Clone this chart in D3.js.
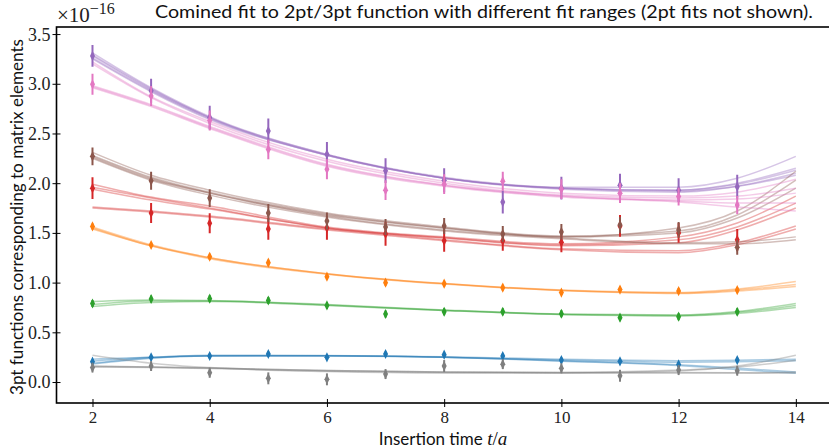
<!DOCTYPE html>
<html><head><meta charset="utf-8">
<script src="https://cdn.jsdelivr.net/npm/d3@7"></script>
<style>
html,body{margin:0;padding:0;background:#fff;}
svg{display:block;}
</style></head>
<body>
<svg id="chart" width="829" height="448"></svg>
<script>
// ---------- data ----------
const tPoints = [2,3,4,5,6,7,8,9,10,11,12,13];
const fitT = [2,3,4,6,8,10,12,13,14];
const xTicks = [2,4,6,8,10,12,14];
const yTicks = [0,0.5,1.0,1.5,2.0,2.5,3.0,3.5];

const seriesNames = ["blue","orange","green","red","purple","brown","pink","gray"];
const seriesColors = ["#1f77b4","#ff7f0e","#2ca02c","#d62728","#9467bd","#8c564b","#e377c2","#7f7f7f"];

const blueVals   = [0.205,0.248,0.262,0.282,0.248,0.282,0.275,0.262,0.221,0.208,0.177,0.221];
const blueErr    = [0.025,0.025,0.025,0.025,0.025,0.025,0.025,0.025,0.025,0.025,0.025,0.025];
const orangeVals = [1.565,1.378,1.26,1.20,1.06,0.999,0.989,0.949,0.90,0.93,0.915,0.925];
const orangeErr  = [0.03,0.025,0.03,0.03,0.03,0.03,0.03,0.03,0.025,0.03,0.03,0.03];
const greenVals  = [0.79,0.835,0.838,0.82,0.77,0.684,0.707,0.707,0.687,0.647,0.657,0.707];
const greenErr   = [0.035,0.035,0.035,0.035,0.035,0.035,0.035,0.035,0.035,0.035,0.035,0.035];
const redVals    = [1.95,1.70,1.597,1.54,1.55,1.49,1.42,1.42,1.405,1.57,1.50,1.43];
const redErr     = [0.11,0.10,0.10,0.11,0.12,0.12,0.11,0.10,0.10,0.11,0.10,0.11];
const purpleVals = [3.28,2.93,2.66,2.525,2.29,2.126,2.03,1.81,1.95,1.98,1.93,1.965];
const purpleErr  = [0.11,0.12,0.12,0.125,0.125,0.125,0.12,0.115,0.115,0.115,0.12,0.12];
const brownVals  = [2.27,2.025,1.85,1.70,1.62,1.56,1.57,1.49,1.51,1.58,1.53,1.355];
const brownErr   = [0.09,0.09,0.09,0.09,0.085,0.08,0.08,0.08,0.08,0.08,0.08,0.075];
const pinkVals   = [2.995,2.877,2.63,2.34,2.14,1.93,1.99,2.02,1.94,1.90,1.865,1.78];
const pinkErr    = [0.105,0.10,0.10,0.10,0.10,0.10,0.10,0.095,0.10,0.10,0.09,0.09];
const grayVals   = [0.145,0.16,0.094,0.037,0.027,0.08,0.161,0.18,0.138,0.063,0.12,0.114];
const grayErr    = [0.05,0.05,0.05,0.06,0.06,0.05,0.06,0.05,0.05,0.06,0.05,0.05];

// fit curves sampled at fitT
const blueFits = [
  [0.23,0.25,0.265,0.265,0.255,0.228,0.215,0.22,0.23],
  [0.19,0.245,0.262,0.263,0.25,0.222,0.20,0.205,0.215],
  [0.21,0.248,0.27,0.268,0.25,0.21,0.165,0.125,0.087],
  [0.18,0.24,0.262,0.265,0.25,0.215,0.175,0.14,0.10]];
const orangeFits = [
  [1.56,1.38,1.25,1.09,0.99,0.925,0.90,0.935,1.01],
  [1.55,1.37,1.25,1.09,0.99,0.92,0.895,0.925,0.98],
  [1.54,1.37,1.24,1.085,0.985,0.92,0.89,0.915,0.96]];
const greenFits = [
  [0.81,0.825,0.82,0.78,0.725,0.685,0.675,0.71,0.79],
  [0.78,0.815,0.815,0.775,0.72,0.68,0.67,0.70,0.77],
  [0.76,0.80,0.81,0.77,0.72,0.68,0.665,0.69,0.75]];
const redFits = [
  [1.99,1.86,1.77,1.56,1.46,1.39,1.46,1.60,1.87],
  [1.94,1.83,1.74,1.55,1.45,1.38,1.43,1.56,1.80],
  [1.96,1.85,1.75,1.55,1.45,1.37,1.40,1.53,1.75],
  [1.76,1.72,1.67,1.54,1.43,1.34,1.32,1.40,1.57],
  [1.75,1.71,1.66,1.53,1.42,1.33,1.30,1.38,1.54]];
const purpleFits = [
  [3.31,2.96,2.67,2.29,2.06,1.95,1.92,1.97,2.08],
  [3.29,2.95,2.66,2.28,2.05,1.95,1.93,1.99,2.13],
  [3.26,2.93,2.65,2.28,2.05,1.96,1.96,2.05,2.27],
  [3.28,2.94,2.66,2.29,2.05,1.94,1.91,1.97,2.10],
  [3.25,2.92,2.64,2.28,2.05,1.95,1.93,2.00,2.15]];
const brownFits = [
  [2.31,2.08,1.93,1.70,1.56,1.47,1.52,1.68,2.03],
  [2.28,2.06,1.91,1.69,1.55,1.46,1.55,1.72,2.12],
  [2.26,2.04,1.90,1.68,1.55,1.46,1.50,1.65,1.95],
  [2.27,2.05,1.90,1.67,1.53,1.45,1.40,1.41,1.46],
  [2.25,2.03,1.88,1.66,1.52,1.44,1.39,1.39,1.43]];
const pinkFits = [
  [3.22,2.87,2.62,2.24,2.02,1.90,1.87,1.91,2.04],
  [3.20,2.86,2.60,2.22,2.00,1.88,1.85,1.87,1.95],
  [2.98,2.79,2.57,2.19,1.98,1.87,1.83,1.84,1.90],
  [2.96,2.77,2.55,2.17,1.97,1.86,1.81,1.76,1.72],
  [2.97,2.78,2.56,2.18,1.98,1.87,1.82,1.80,1.80]];
const grayFits = [
  [0.27,0.19,0.145,0.105,0.09,0.09,0.11,0.16,0.27],
  [0.16,0.15,0.14,0.115,0.10,0.095,0.12,0.15,0.22],
  [0.15,0.145,0.135,0.11,0.095,0.09,0.09,0.09,0.10],
  [0.155,0.15,0.14,0.115,0.10,0.095,0.095,0.093,0.09]];

const titleText = "Comined fit to 2pt/3pt function with different fit ranges (2pt fits not shown).";
const yLabelText = "3pt functions corresponding to matrix elements";

// ---------- build ----------
const series = [
  {vals: blueVals, err: blueErr, fits: blueFits},
  {vals: orangeVals, err: orangeErr, fits: orangeFits},
  {vals: greenVals, err: greenErr, fits: greenFits},
  {vals: redVals, err: redErr, fits: redFits},
  {vals: purpleVals, err: purpleErr, fits: purpleFits},
  {vals: brownVals, err: brownErr, fits: brownFits},
  {vals: pinkVals, err: pinkErr, fits: pinkFits},
  {vals: grayVals, err: grayErr, fits: grayFits}
].map((s,i)=>Object.assign(s,{name:seriesNames[i], color:seriesColors[i]}));

const svg = d3.select("#chart");
const L = 56.5, R = 831, T = 27, B = 403;
const x = d3.scaleLinear().domain([1.386, 14.6]).range([L, R]);
const y = d3.scaleLinear().domain([-0.211, 3.571]).range([B, T]);

const plot = svg.append("g");
svg.append("clipPath").attr("id","clip").append("rect")
  .attr("x",L).attr("y",T).attr("width",R-L).attr("height",B-T);
const inner = plot.append("g").attr("clip-path","url(#clip)");

const line = d3.line().x(d=>x(d[0])).y(d=>y(d[1])).curve(d3.curveMonotoneX);

// fit lines
series.forEach(s=>{
  inner.append("g").selectAll("path").data(s.fits).join("path")
    .attr("d", f => line(fitT.map((t,i)=>[t,f[i]])))
    .attr("fill","none").attr("stroke",s.color)
    .attr("stroke-width",1.5).attr("stroke-opacity",0.38);
});
// points with error bars
series.forEach(s=>{
  const g = inner.append("g");
  const pts = tPoints.map((t,i)=>({t, v:s.vals[i], e:s.err[i]}));
  g.selectAll("line").data(pts).join("line")
    .attr("x1",d=>x(d.t)).attr("x2",d=>x(d.t))
    .attr("y1",d=>y(d.v-d.e)).attr("y2",d=>y(d.v+d.e))
    .attr("stroke",s.color).attr("stroke-width",2);
  g.selectAll("path").data(pts).join("path")
    .attr("d", d3.symbol(d3.symbolDiamond, 30))
    .attr("transform",d=>`translate(${x(d.t)},${y(d.v)}) scale(0.85,1)`)
    .attr("fill",s.color);
});

// axes
const xAxis = plot.append("g").attr("transform",`translate(0,${B})`)
  .call(d3.axisBottom(x).tickValues(xTicks).tickSize(4).tickSizeOuter(0).tickFormat(d3.format("d")));
const yAxis = plot.append("g").attr("transform",`translate(${L},0)`)
  .call(d3.axisLeft(y).tickValues(yTicks).tickSize(4).tickSizeOuter(0).tickFormat(d3.format(".1f")));
xAxis.select(".domain").remove();
yAxis.select(".domain").remove();
xAxis.selectAll(".tick line").attr("y1",-4).attr("y2",4).attr("stroke","#000").attr("stroke-width",1);
yAxis.selectAll(".tick line").attr("x1",4).attr("x2",-4).attr("stroke","#000").attr("stroke-width",1);
xAxis.selectAll(".tick text").attr("y",8).attr("dy","0.71em")
  .attr("font-family","'Liberation Serif', 'DejaVu Serif', serif").attr("font-size",17).attr("fill","#222");
yAxis.selectAll(".tick text").attr("x",-6).attr("dy","0.33em")
  .attr("font-family","'Liberation Serif', 'DejaVu Serif', serif").attr("font-size",18).attr("fill","#222");

// frame
plot.append("rect").attr("x",L).attr("y",T).attr("width",R-L).attr("height",B-T)
  .attr("fill","none").attr("stroke","#000").attr("stroke-width",1.6);

// exponent label
const ex = svg.append("text").attr("x",57).attr("y",22)
  .attr("font-family","'Liberation Serif', 'DejaVu Serif', serif").attr("font-size",21).attr("fill","#222");
ex.append("tspan").text("×10");
ex.append("tspan").attr("dy",-8).attr("font-size",16).text("−16");

// title
const title = svg.append("text").attr("x",155).attr("y",18)
  .attr("font-family","Lato, 'DejaVu Sans', sans-serif").attr("font-size",16.5).attr("fill","#111")
  .text(titleText);
title.attr("textLength",658).attr("lengthAdjust","spacingAndGlyphs");

// y label
const yl = svg.append("text")
  .attr("transform","translate(23,217) rotate(-90)")
  .attr("text-anchor","middle")
  .attr("font-family","Lato, 'DejaVu Sans', sans-serif").attr("font-size",16.5).attr("fill","#111")
  .text(yLabelText);
yl.attr("textLength",356).attr("lengthAdjust","spacingAndGlyphs");

// x label
const xl = svg.append("text").attr("x",443).attr("y",445).attr("text-anchor","middle")
  .attr("font-family","Lato, 'DejaVu Sans', sans-serif").attr("font-size",17).attr("fill","#111");
xl.append("tspan").text("Insertion time ");
xl.append("tspan").attr("font-family","'Liberation Serif', 'DejaVu Serif', serif").attr("font-style","italic").attr("font-size",19).text("t");
xl.append("tspan").attr("font-family","'Liberation Serif', 'DejaVu Serif', serif").attr("font-size",19).text("/");
xl.append("tspan").attr("font-family","'Liberation Serif', 'DejaVu Serif', serif").attr("font-style","italic").attr("font-size",19).text("a");
</script>
</body></html>
